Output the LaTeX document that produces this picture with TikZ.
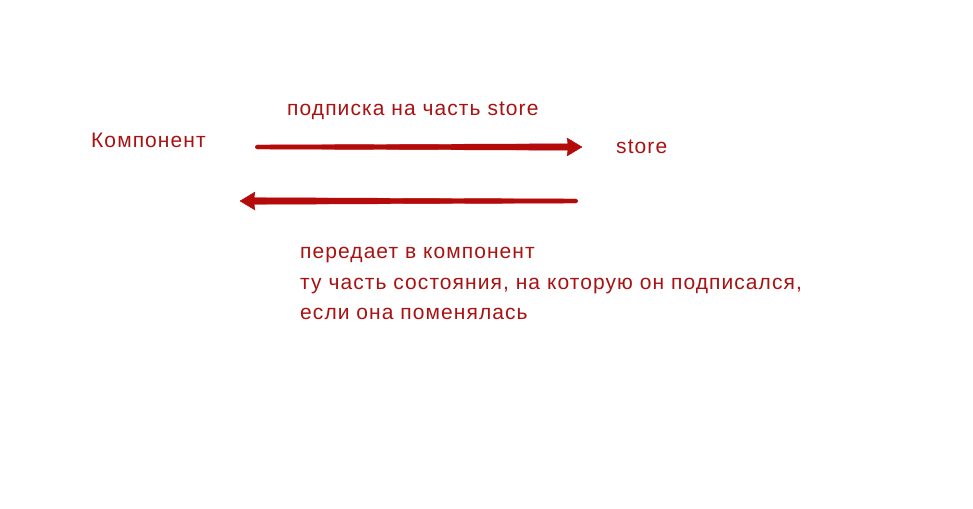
\documentclass[tikz,border=0pt]{standalone}
\usepackage{fontspec}
\setmainfont{Liberation Sans}[LetterSpace=5.1]
\usetikzlibrary{calc}
\definecolor{txtred}{RGB}{168,18,18}
\definecolor{arrred}{RGB}{180,10,10}
\tikzset{
  lbl/.style={anchor=base west, inner sep=0pt, text=txtred, font=\fontsize{21}{29.5}\selectfont},
  arrfill/.style={fill=arrred, draw=arrred, line width=0.4pt, line join=round}
}
\begin{document}
\begin{tikzpicture}[x=1pt,y=-1pt]
\useasboundingbox[fill=white] (0,0) rectangle (973,508);
\node[lbl] (comp) at (91,147.5) {Компонент};
\node[lbl] (store) at (616,153.3) {store};
\node[lbl] (sub) at (287,115.7) {подписка на часть store};
\node[lbl] (pass1) at (300,258.5) {передает в компонент};
\node[lbl] (pass2) at (300,289.5) {ту часть состояния, на которую он подписался,};
\node[lbl] (pass3) at (300,319.5) {если она поменялась};
% top arrow
\coordinate (t1) at (257,147);
\coordinate (t2) at (582,147);
\fill[arrfill] ($(t1)+(0,-2)$) -- ($(t2)+(-14,-3.2)$) -- ($(t2)+(-15,-9)$) -- (t2) -- ($(t2)+(-15,9)$) -- ($(t2)+(-14,3.2)$) -- ($(t1)+(0,2)$) -- cycle;
\fill[arrred] (t1) circle[radius=2];
% bottom arrow
\coordinate (b1) at (576,201);
\coordinate (b2) at (240,201);
\fill[arrfill] ($(b1)+(0,-2)$) -- ($(b2)+(14,-3.3)$) -- ($(b2)+(15,-9)$) -- (b2) -- ($(b2)+(15,9)$) -- ($(b2)+(14,3.3)$) -- ($(b1)+(0,2)$) -- cycle;
\fill[arrred] (b1) circle[radius=2];
\end{tikzpicture}
\end{document}
